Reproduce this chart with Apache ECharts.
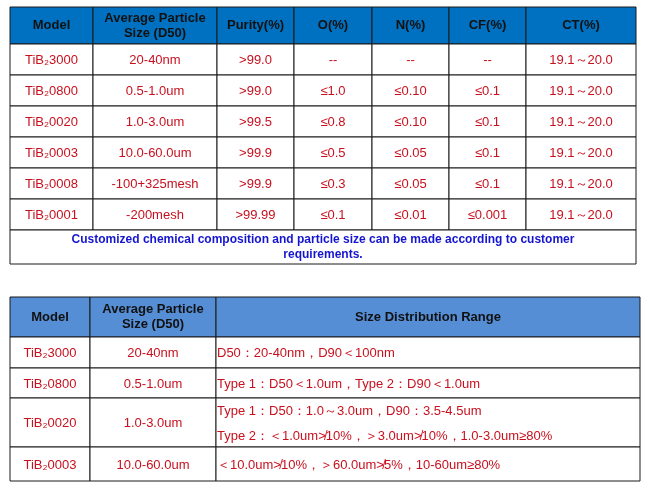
<!DOCTYPE html>
<html><head><meta charset="utf-8">
<script src="https://cdn.jsdelivr.net/npm/echarts@6/dist/echarts.min.js"></script>
<style>html,body{margin:0;padding:0;background:#fff}#c{width:649px;height:490px}</style>
</head><body><div id="c"></div>
<script>
// table 1
const headers1 = ['Model', 'Average Particle\nSize (D50)', 'Purity(%)', 'O(%)', 'N(%)', 'CF(%)', 'CT(%)'];
const models1 = ['3000', '0800', '0020', '0003', '0008', '0001'];
const sizes1 = ['20-40nm', '0.5-1.0um', '1.0-3.0um', '10.0-60.0um', '-100+325mesh', '-200mesh'];
const purity = ['>99.0', '>99.0', '>99.5', '>99.9', '>99.9', '>99.99'];
const oxygen = ['--', '≤1.0', '≤0.8', '≤0.5', '≤0.3', '≤0.1'];
const nitrogen = ['--', '≤0.10', '≤0.10', '≤0.05', '≤0.05', '≤0.01'];
const cf = ['--', '≤0.1', '≤0.1', '≤0.1', '≤0.1', '≤0.001'];
const ct = ['19.1～20.0', '19.1～20.0', '19.1～20.0', '19.1～20.0', '19.1～20.0', '19.1～20.0'];
const note = 'Customized chemical composition and particle size can be made according to customer\nrequirements.';
// table 2
const headers2 = ['Model', 'Average Particle\nSize (D50)', 'Size Distribution Range'];
const models2 = ['3000', '0800', '0020', '0003'];
const sizes2 = ['20-40nm', '0.5-1.0um', '1.0-3.0um', '10.0-60.0um'];
const ranges = [
  'D50：20-40nm，D90＜100nm',
  'Type 1：D50＜1.0um，Type 2：D90＜1.0um',
  'Type 1：D50：1.0～3.0um，D90：3.5-4.5um\nType 2：＜1.0um≯10%，＞3.0um≯10%，1.0-3.0um≥80%',
  '＜10.0um≯10%，＞60.0um≯5%，10-60um≥80%'
];

const F = 'Arial, "Liberation Sans", sans-serif';
const RED = '#C8101E';
const els = [];
function rect(x, y, w, h, fill) {
  els.push({type: 'rect', shape: {x, y, width: w, height: h},
    style: {fill: fill || '#fff', stroke: '#1a1a1a', lineWidth: 1}});
}
function text(x, y, s, opt) {
  els.push({type: 'text', x, y, style: Object.assign({text: s, font: '13px ' + F, fill: RED,
    align: 'center', verticalAlign: 'middle'}, opt || {})});
}
const model = m => 'TiB₂' + m;

// table 1 layout
const cx1 = [10, 93, 217, 294, 372, 449, 526, 636];
const ry1 = [7, 44, 75, 106, 137, 168, 199, 230, 264];
headers1.forEach((h, i) => {
  rect(cx1[i], ry1[0], cx1[i + 1] - cx1[i], ry1[1] - ry1[0], '#0070C0');
  text((cx1[i] + cx1[i + 1]) / 2, (ry1[0] + ry1[1]) / 2, h,
    {font: 'bold 13px ' + F, fill: '#111', lineHeight: 15});
});
const cols1 = [models1.map(model), sizes1, purity, oxygen, nitrogen, cf, ct];
models1.forEach((_, r) => {
  cols1.forEach((col, c) => {
    rect(cx1[c], ry1[r + 1], cx1[c + 1] - cx1[c], ry1[r + 2] - ry1[r + 1]);
    text((cx1[c] + cx1[c + 1]) / 2, (ry1[r + 1] + ry1[r + 2]) / 2 + 1, col[r]);
  });
});
rect(cx1[0], ry1[7], cx1[7] - cx1[0], ry1[8] - ry1[7]);
text((cx1[0] + cx1[7]) / 2, (ry1[7] + ry1[8]) / 2, note,
  {font: 'bold 12px ' + F, fill: '#1515D0', lineHeight: 15});

// table 2 layout
const cx2 = [10, 90, 216, 640];
const ry2 = [297, 337, 368, 398, 447, 481];
headers2.forEach((h, i) => {
  rect(cx2[i], ry2[0], cx2[i + 1] - cx2[i], ry2[1] - ry2[0], '#558ED5');
  text((cx2[i] + cx2[i + 1]) / 2, (ry2[0] + ry2[1]) / 2, h,
    {font: 'bold 13px ' + F, fill: '#111', lineHeight: 15});
});
const cols2 = [models2.map(model), sizes2, ranges];
models2.forEach((_, r) => {
  cols2.forEach((col, c) => {
    rect(cx2[c], ry2[r + 1], cx2[c + 1] - cx2[c], ry2[r + 2] - ry2[r + 1]);
    const left = c === 2;
    text(left ? cx2[c] + 1 : (cx2[c] + cx2[c + 1]) / 2, (ry2[r + 1] + ry2[r + 2]) / 2 + 1, col[r],
      {align: left ? 'left' : 'center', lineHeight: 25});
  });
});

const chart = echarts.init(document.getElementById('c'), null, {renderer: 'canvas'});
chart.setOption({animation: false, graphic: {elements: els}});
</script></body></html>
